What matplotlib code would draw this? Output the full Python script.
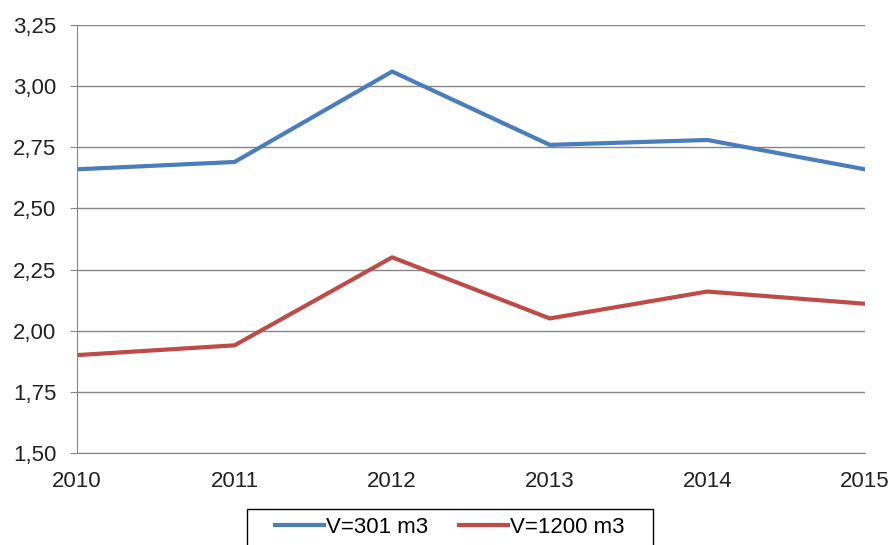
import matplotlib.pyplot as plt
from matplotlib.patches import Rectangle

years = [2010, 2011, 2012, 2013, 2014, 2015]
v301 = [2.66, 2.69, 3.06, 2.76, 2.78, 2.66]
v1200 = [1.90, 1.94, 2.30, 2.05, 2.16, 2.11]
yticks = [1.50, 1.75, 2.00, 2.25, 2.50, 2.75, 3.00, 3.25]

plt.rcParams['font.family'] = ['Liberation Sans', 'DejaVu Sans']

fig = plt.figure(figsize=(8.88, 5.45), dpi=100)
ax = fig.add_axes([0.0867, 0.169, 0.8873, 0.785])

ax.plot(years, v301, color='#4A7EBB', lw=3, label='V=301 m3')
ax.plot(years, v1200, color='#BE4B48', lw=3, label='V=1200 m3')

ax.set_xlim(2010, 2015)
ax.set_ylim(1.5, 3.25)
ax.set_xticks(years)
ax.set_yticks(yticks)
ax.set_yticklabels([f"{v:.2f}".replace('.', ',') for v in yticks])
ax.grid(axis='y', color='#868686', lw=1)
ax.set_axisbelow(True)

for s in ['top', 'right']:
    ax.spines[s].set_visible(False)
for s in ['left', 'bottom']:
    ax.spines[s].set_color('#868686')
ax.tick_params(colors='#868686', labelcolor='#222222', labelsize=16)
ax.tick_params(axis='y', length=5, pad=10)
ax.tick_params(axis='x', length=0, pad=13)

leg = fig.legend(loc='upper center', bbox_to_anchor=(450 / 888, 1 - 509 / 545), ncol=2,
                 fontsize=16, frameon=False,
                 handlelength=2.2, handletextpad=0.1, columnspacing=1.4,
                 borderpad=0.35, borderaxespad=0)

# wider box like the excel legend
fig.canvas.draw()
bb = leg.get_window_extent()
fig.patches.append(Rectangle((bb.x0 - 20, bb.y0), bb.width + 40, bb.height,
                             transform=None, fill=False, ec='black', lw=1))

fig.savefig('out.png', dpi=100)
